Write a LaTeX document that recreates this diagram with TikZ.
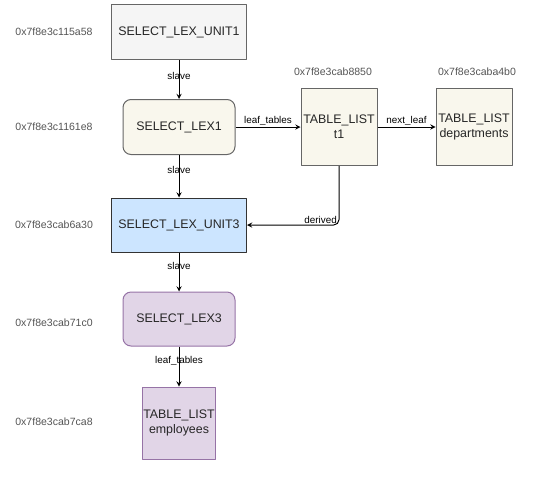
\documentclass[tikz,border=0pt]{standalone}
\usepackage{fontspec}
\setmainfont{Liberation Sans}
\usepackage{xcolor}
\usetikzlibrary{arrows}
\definecolor{unitfill}{HTML}{F5F5F5}
\definecolor{lexfill}{HTML}{F9F7ED}
\definecolor{bluefill}{HTML}{CCE5FF}
\definecolor{purplefill}{HTML}{E1D5E7}
\definecolor{purpleline}{HTML}{9673A6}
\definecolor{addrtext}{HTML}{555555}

\begin{document}
\begin{tikzpicture}[x=0.75pt,y=-0.75pt,line join=round,>=stealth,
  font=\fontsize{9.3}{11}\selectfont,
  box/.style={draw=black!60,line width=0.75pt,text=black!85,inner sep=0pt,align=center},
  lexbox/.style={box,rounded corners=6pt},
  addr/.style={text=addrtext,font=\fontsize{7.9}{9}\selectfont},
  lbl/.style={font=\fontsize{7.4}{9}\selectfont,inner sep=1pt}]
\useasboundingbox (0,0) rectangle (552,482);
% nodes
\node[box,fill=unitfill,minimum width=101.25pt,minimum height=41.25pt] (unit1) at (179,32) {SELECT\_LEX\_UNIT1};
\node[lexbox,fill=lexfill,minimum width=84pt,minimum height=41.25pt] (lex1) at (179,127) {SELECT\_LEX1};
\node[box,fill=lexfill,minimum width=57pt,minimum height=57.75pt] (t1) at (339,127) {TABLE\_LIST\\t1};
\node[box,fill=lexfill,minimum width=57pt,minimum height=57.75pt] (dept) at (474,127) {TABLE\_LIST\\departments};
\node[box,draw=black!80,fill=bluefill,minimum width=101.25pt,minimum height=40.5pt] (unit3) at (179,225) {SELECT\_LEX\_UNIT3};
\node[lexbox,draw=purpleline,fill=purplefill,minimum width=84pt,minimum height=40.5pt] (lex3) at (179,319) {SELECT\_LEX3};
\node[box,draw=purpleline,fill=purplefill,minimum width=55pt,minimum height=54pt] (emp) at (179,423) {TABLE\_LIST\\employees};
% addresses
\foreach \a/\y in {0x7f8e3c115a58/32,0x7f8e3c1161e8/127,0x7f8e3cab6a30/225,0x7f8e3cab71c0/323,0x7f8e3cab7ca8/422}
{\node[addr] at (54,\y) {\a};}
\node[addr] (addrt1) at (333,72) {0x7f8e3cab8850};
\node[addr] (addrdept) at (477,72) {0x7f8e3caba4b0};
% connectors
\draw[->,line width=0.75pt] (unit1)--(lex1) node[lbl,pos=0.4]{slave};
\draw[->,line width=0.75pt] (lex1)--(unit3) node[lbl,pos=0.35]{slave};
\draw[->,line width=0.75pt] (unit3)--(lex3) node[lbl,pos=0.35]{slave};
\draw[->,line width=0.75pt] (lex3)--(emp) node[lbl,pos=0.35]{leaf\_tables};
\draw[->,line width=0.75pt] (lex1)--(t1) node[lbl,midway,above]{leaf\_tables};
\draw[->,line width=0.75pt] (t1)--(dept) node[lbl,midway,above]{next\_leaf};
\draw[->,line width=0.75pt,rounded corners=4pt] (t1.south)|-(unit3.east) node[lbl,pos=0.6,above]{derived};
\end{tikzpicture}
\end{document}
